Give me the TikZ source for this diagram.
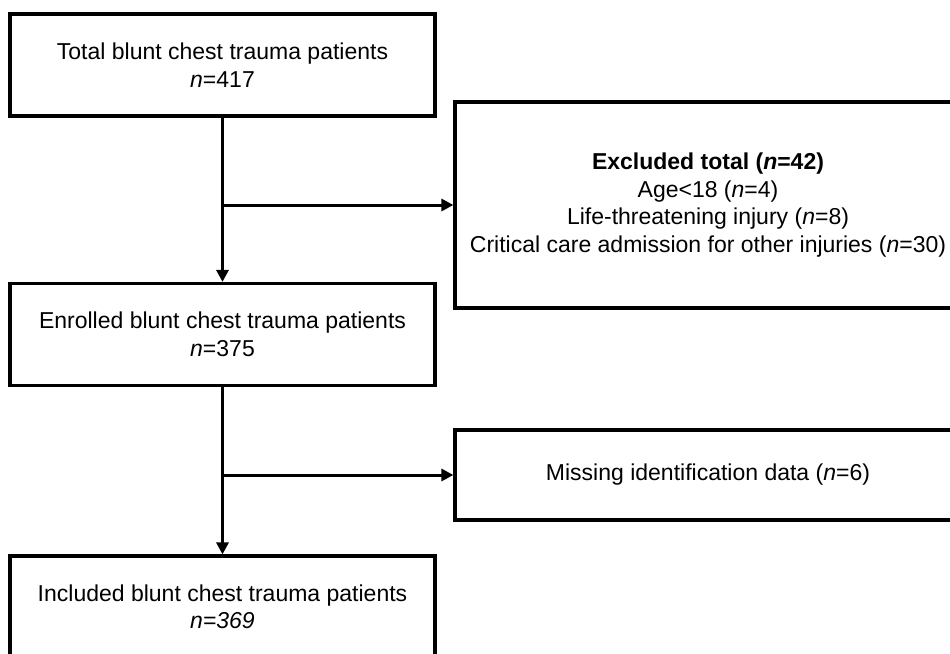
\documentclass[tikz,border=0pt]{standalone}
\usepackage{fontspec}
\setmainfont{Liberation Sans}
\usetikzlibrary{arrows.meta}

\begin{document}
\begin{tikzpicture}[x=1pt,y=-1pt,>={Triangle[length=12pt,width=12pt]}]
    \tikzstyle{box}=[draw=black, line width=3.2pt, align=center, inner sep=0pt,
        font=\fontsize{23}{27.5}\selectfont]
    \tikzstyle{main box}=[box, minimum width=425pt, minimum height=102pt]
    \tikzstyle{side box}=[box, minimum width=506pt]
    \tikzstyle{flow}=[->, line width=3pt]
    \clip (0,0) rectangle (950,653);
    % Draw the main column
    \node[main box] (total) at (222.5,65) {Total blunt chest trauma patients\\\textit{n}=417};
    \node[main box] (enrolled) at (222.5,334.5) {Enrolled blunt chest trauma patients\\\textit{n}=375};
    \node[main box] (included) at (222.5,607) {Included blunt chest trauma patients\\\textit{n=369}};
    % Draw the exclusion boxes
    \node[side box, minimum height=206pt] (excluded) at (708,205)
        {\textbf{Excluded total (\textit{n}=42)}\\Age<18 (\textit{n}=4)\\Life-threatening injury (\textit{n}=8)\\Critical care admission for other injuries (\textit{n}=30)};
    \node[side box, minimum height=90pt] (missing) at (708,475) {Missing identification data (\textit{n}=6)};
    % branch points
    \coordinate (b1) at (222.5,205);
    \coordinate (b2) at (222.5,475);
    % connect nodes
    \draw[flow] (total) -- (enrolled);
    \draw[flow] (enrolled) -- (included);
    \draw[flow] (b1) -- (excluded);
    \draw[flow] (b2) -- (missing);
\end{tikzpicture}
\end{document}
